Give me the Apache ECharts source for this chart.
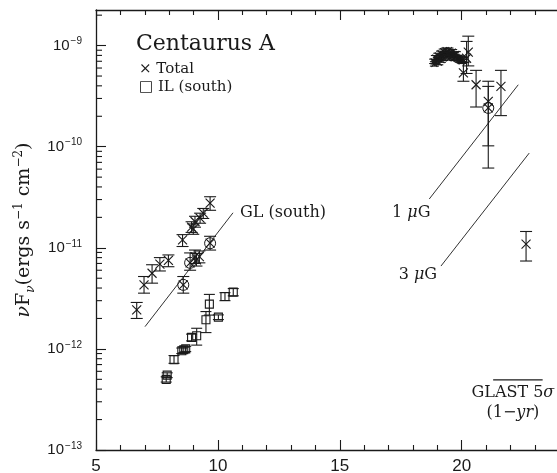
<!DOCTYPE html>
<html><head><meta charset="utf-8">
<script src="https://cdn.jsdelivr.net/npm/echarts@6/dist/echarts.min.js"></script>
<style>html,body{margin:0;padding:0;background:#fff}#c{width:557px;height:473px}</style>
</head><body><div id="c"></div>
<script>
// ---- data: [x, y, yLow, yHigh] ----
const totalLeft = [
  [6.67, 2.43e-12, 2.0e-12, 2.88e-12],
  [6.97, 4.3e-12, 3.56e-12, 5.2e-12],
  [7.30, 5.6e-12, 4.47e-12, 6.8e-12],
  [7.62, 6.9e-12, 5.9e-12, 8.0e-12],
  [7.97, 7.5e-12, 6.5e-12, 8.5e-12],
  [8.55, 1.2e-11, 1.03e-11, 1.35e-11],
  [8.58, 4.3e-12, 3.56e-12, 5.2e-12],
  [8.86, 7.1e-12, 6.0e-12, 8.9e-12],
  [9.06, 8.2e-12, 7.0e-12, 9.5e-12],
  [9.12, 7.6e-12, 6.6e-12, 8.8e-12],
  [9.24, 8.2e-12, 7.1e-12, 9.3e-12],
  [9.68, 1.11e-11, 9.5e-12, 1.3e-11],
  [8.92, 1.6e-11, 1.42e-11, 1.81e-11],
  [8.99, 1.53e-11, 1.36e-11, 1.72e-11],
  [9.06, 1.82e-11, 1.6e-11, 2.05e-11],
  [9.27, 1.97e-11, 1.75e-11, 2.2e-11],
  [9.40, 2.2e-11, 1.95e-11, 2.45e-11],
  [9.68, 2.77e-11, 2.35e-11, 3.2e-11]
];
const totalRight = [
  [20.07, 5.37e-10, 4.44e-10, 6.8e-10],
  [20.20, 7.5e-10, 5.3e-10, 1.1e-9],
  [20.27, 8.6e-10, 6.3e-10, 1.24e-9],
  [20.59, 4.1e-10, 2.47e-10, 5.69e-10],
  [21.09, 2.81e-10, 1.02e-10, 4.44e-10],
  [21.09, 2.42e-10, 6.15e-11, 3.95e-10],
  [21.61, 3.95e-10, 2.03e-10, 5.69e-10],
  [22.64, 1.09e-11, 7.4e-12, 1.45e-11]
];
const clusterX = [18.85,18.88,18.92,18.95,19.0,19.02,19.06,19.1,19.13,19.17,19.2,19.24,19.27,19.3,19.34,19.38,19.41,19.45,19.48,19.52,19.55,19.6,19.63,19.67,19.7,19.74,19.78,19.82,19.86,19.9,19.95,20.0,20.05];
const clusterY = [7.0e-10,6.6e-10,7.6e-10,6.9e-10,7.3e-10,8.0e-10,6.8e-10,7.7e-10,8.4e-10,7.2e-10,8.0e-10,8.8e-10,7.5e-10,8.3e-10,9.0e-10,7.8e-10,8.6e-10,8.1e-10,9.0e-10,7.6e-10,8.4e-10,8.0e-10,8.7e-10,7.5e-10,8.2e-10,7.8e-10,8.3e-10,7.4e-10,7.6e-10,7.2e-10,7.4e-10,7.0e-10,7.3e-10];
const ilSouth = [
  [7.88, 5.0e-13, 4.7e-13, 5.3e-13],
  [7.92, 5.5e-13, 5.2e-13, 5.8e-13],
  [8.20, 7.8e-13, 7.2e-13, 8.6e-13],
  [8.52, 9.6e-13, 9.0e-13, 1.02e-12],
  [8.60, 9.8e-13, 9.2e-13, 1.04e-12],
  [8.68, 1.0e-12, 9.4e-13, 1.06e-12],
  [8.92, 1.3e-12, 1.2e-12, 1.4e-12],
  [9.13, 1.35e-12, 1.09e-12, 1.6e-12],
  [9.51, 1.94e-12, 1.45e-12, 2.34e-12],
  [9.65, 2.77e-12, 2.16e-12, 3.46e-12],
  [10.02, 2.06e-12, 1.95e-12, 2.17e-12],
  [10.29, 3.3e-12, 3.0e-12, 3.6e-12],
  [10.63, 3.64e-12, 3.35e-12, 3.95e-12]
];
const circled = [[8.58, 4.3e-12], [8.86, 7.1e-12], [9.68, 1.11e-11], [21.09, 2.42e-10]];
// model lines (x, y endpoints)
const glLine = [[7.01, 1.66e-12], [10.62, 2.22e-11]];
const oneMuGLine = [[18.67, 3.04e-11], [22.32, 4.1e-10]];
const threeMuGLine = [[19.15, 6.6e-12], [22.77, 8.65e-11]];
const glastLine = [[21.29, 4.93e-13], [23.32, 4.93e-13]];
// annotation labels: [x, y, text, align]
const annotations = [
  [10.91, 2.22e-11, 'GL (south)', 'left'],
  [18.72, 2.22e-11, '1 {i|\u03bc}G', 'right'],
  [18.99, 5.4e-12, '3 {i|\u03bc}G', 'right'],
  [22.10, 3.69e-13, 'GLAST 5{i|\u03c3}', 'center'],
  [22.10, 2.34e-13, '(1\u2212{i|yr})', 'center']
];
const yMinorTicks = [];
[-13,-12,-11,-10,-9].forEach(e => { for (let m = 2; m <= 9; m++) { const v = m * Math.pow(10, e); if (v < 2.25e-9) yMinorTicks.push(v); } });
const xMin = 5, xMax = 25, yMin = 1e-13, yMax = 2.25e-9;

const serif = 'DejaVu Serif';
const ink = '#1a1a1a';

function errItem(marker, half) {
  return function (params, api) {
    const x = api.value(0), y = api.value(1), lo = api.value(2), hi = api.value(3);
    const p = api.coord([x, y]), pl = api.coord([x, lo]), ph = api.coord([x, hi]);
    const cw = half + 1.5;
    const st = { stroke: ink, lineWidth: 1.1, fill: null };
    const ch = [
      { type: 'line', shape: { x1: p[0], y1: ph[1], x2: p[0], y2: pl[1] }, style: st },
      { type: 'line', shape: { x1: p[0] - cw, y1: ph[1], x2: p[0] + cw, y2: ph[1] }, style: st },
      { type: 'line', shape: { x1: p[0] - cw, y1: pl[1], x2: p[0] + cw, y2: pl[1] }, style: st }
    ];
    if (marker === 'x') {
      ch.push({ type: 'line', shape: { x1: p[0] - half, y1: p[1] - half, x2: p[0] + half, y2: p[1] + half }, style: st });
      ch.push({ type: 'line', shape: { x1: p[0] - half, y1: p[1] + half, x2: p[0] + half, y2: p[1] - half }, style: st });
    } else if (marker === 'sq') {
      ch.push({ type: 'rect', shape: { x: p[0] - half, y: p[1] - half, width: 2 * half, height: 2 * half }, style: st });
    }
    return { type: 'group', children: ch };
  };
}
function lineSeries(pts) {
  return { type: 'line', data: pts, symbol: 'none', silent: true, lineStyle: { color: ink, width: 0.9 }, z: 3, xAxisIndex: 0, yAxisIndex: 0 };
}

const chart = echarts.init(document.getElementById('c'), null, { renderer: 'canvas' });
chart.setOption({
  animation: false,
  backgroundColor: '#fff',
  grid: { left: 96, top: 10, width: (xMax - xMin) * 24.38, bottom: 23, containLabel: false, outerBoundsMode: 'none' },
  xAxis: [{
    type: 'value', min: xMin, max: xMax, interval: 5, position: 'bottom',
    axisLine: { show: true, lineStyle: { color: ink, width: 1.3 } },
    axisTick: { show: true, inside: true, length: 10, lineStyle: { color: ink, width: 1.1 } },
    minorTick: { show: true, splitNumber: 5, length: 5, lineStyle: { color: ink, width: 1.1 } },
    splitLine: { show: false },
    axisLabel: { color: ink, fontFamily: 'Liberation Sans', fontSize: 17, margin: 8,
      formatter: v => (v >= 5 && v <= 20) ? String(v) : '' }
  }, {
    type: 'value', min: xMin, max: xMax, interval: 5, position: 'top',
    axisLine: { show: true, lineStyle: { color: ink, width: 1.3 } },
    axisTick: { show: true, inside: true, length: 10, lineStyle: { color: ink, width: 1.1 } },
    minorTick: { show: true, splitNumber: 5, length: 5, lineStyle: { color: ink, width: 1.1 } },
    splitLine: { show: false }, axisLabel: { show: false }
  }],
  yAxis: [{
    type: 'log', logBase: 10, min: yMin, max: yMax,
    axisLine: { show: true, lineStyle: { color: ink, width: 1.3 } },
    axisTick: { show: true, inside: true, length: 10, lineStyle: { color: ink, width: 1.1 } },
    splitLine: { show: false },
    axisLabel: {
      showMaxLabel: false, margin: 14, color: ink,
      formatter: v => { const e = Math.round(Math.log10(v)); return '10{s|' + (e < 0 ? '\u2212' + (-e) : e) + '}'; },
      fontFamily: 'Liberation Sans', fontSize: 15, lineHeight: 18,
      rich: { s: { fontSize: 10, fontFamily: 'Liberation Sans', verticalAlign: 'top', lineHeight: 12, padding: [0, 0, 0, 1] } }
    },
    name: '{i|\u03bd}F{sub|\u03bd}(ergs s{sup|\u22121} cm{sup|\u22122})',
    nameLocation: 'middle', nameGap: 56, nameRotate: 90,
    nameTextStyle: {
      fontFamily: serif, fontSize: 19, color: ink, lineHeight: 24,
      rich: {
        i: { fontFamily: serif, fontSize: 19, fontStyle: 'italic', lineHeight: 24 },
        sub: { fontFamily: serif, fontSize: 12, fontStyle: 'italic', verticalAlign: 'bottom', lineHeight: 14 },
        sup: { fontFamily: serif, fontSize: 12, verticalAlign: 'top', lineHeight: 14 }
      }
    }
  }],
  graphic: [
    { type: 'text', left: 136, top: 33, style: { text: 'Centaurus A', font: '22px "DejaVu Serif"', fill: ink } },
    { type: 'text', left: 139, top: 62, style: { text: '\u00d7 Total', font: '15px "DejaVu Serif"', fill: ink } },
    { type: 'text', left: 139, top: 80, style: { text: '\u25a1 IL (south)', font: '15px "DejaVu Serif", "DejaVu Sans"', fill: ink } }
  ],
  series: [
    // minor ticks on the log axis
    {
      type: 'custom', silent: true, z: 1, clip: false,
      data: yMinorTicks.map(v => [xMin, v]),
      renderItem: (params, api) => {
        const p = api.coord([api.value(0), api.value(1)]);
        return { type: 'line', shape: { x1: p[0], y1: p[1], x2: p[0] + 6, y2: p[1] }, style: { stroke: ink, lineWidth: 1.1 } };
      }
    },
    lineSeries(glLine), lineSeries(oneMuGLine), lineSeries(threeMuGLine),
    { type: 'line', data: glastLine, symbol: 'none', silent: true, lineStyle: { color: ink, width: 1.2 }, z: 3 },
    { type: 'custom', name: 'Total', renderItem: errItem('x', 4.5), data: totalLeft, z: 4 },
    { type: 'custom', name: 'Total', renderItem: errItem('x', 4.5), data: totalRight, z: 4 },
    { type: 'custom', name: 'Total', renderItem: errItem('x', 3), data: clusterX.map((x, i) => [x, clusterY[i], clusterY[i] * 0.95, clusterY[i] * 1.05]), z: 4 },
    { type: 'custom', name: 'IL (south)', renderItem: errItem('sq', 4), data: ilSouth, z: 4 },
    {
      type: 'custom', silent: true, z: 4, data: circled,
      renderItem: (params, api) => {
        const p = api.coord([api.value(0), api.value(1)]);
        return { type: 'circle', shape: { cx: p[0], cy: p[1], r: 5.5 }, style: { stroke: ink, lineWidth: 1, fill: null } };
      }
    },
    {
      type: 'custom', silent: true, clip: false, z: 5, data: annotations,
      renderItem: (params, api) => {
        const a = annotations[params.dataIndex];
        const p = api.coord([a[0], a[1]]);
        return { type: 'text', x: p[0], y: p[1], style: {
          text: a[2], font: '16px "DejaVu Serif"', fill: ink, align: a[3], verticalAlign: 'middle',
          rich: { i: { fontStyle: 'italic', fontFamily: serif, fontSize: 16 } }
        } };
      }
    }
  ]
});
</script></body></html>
